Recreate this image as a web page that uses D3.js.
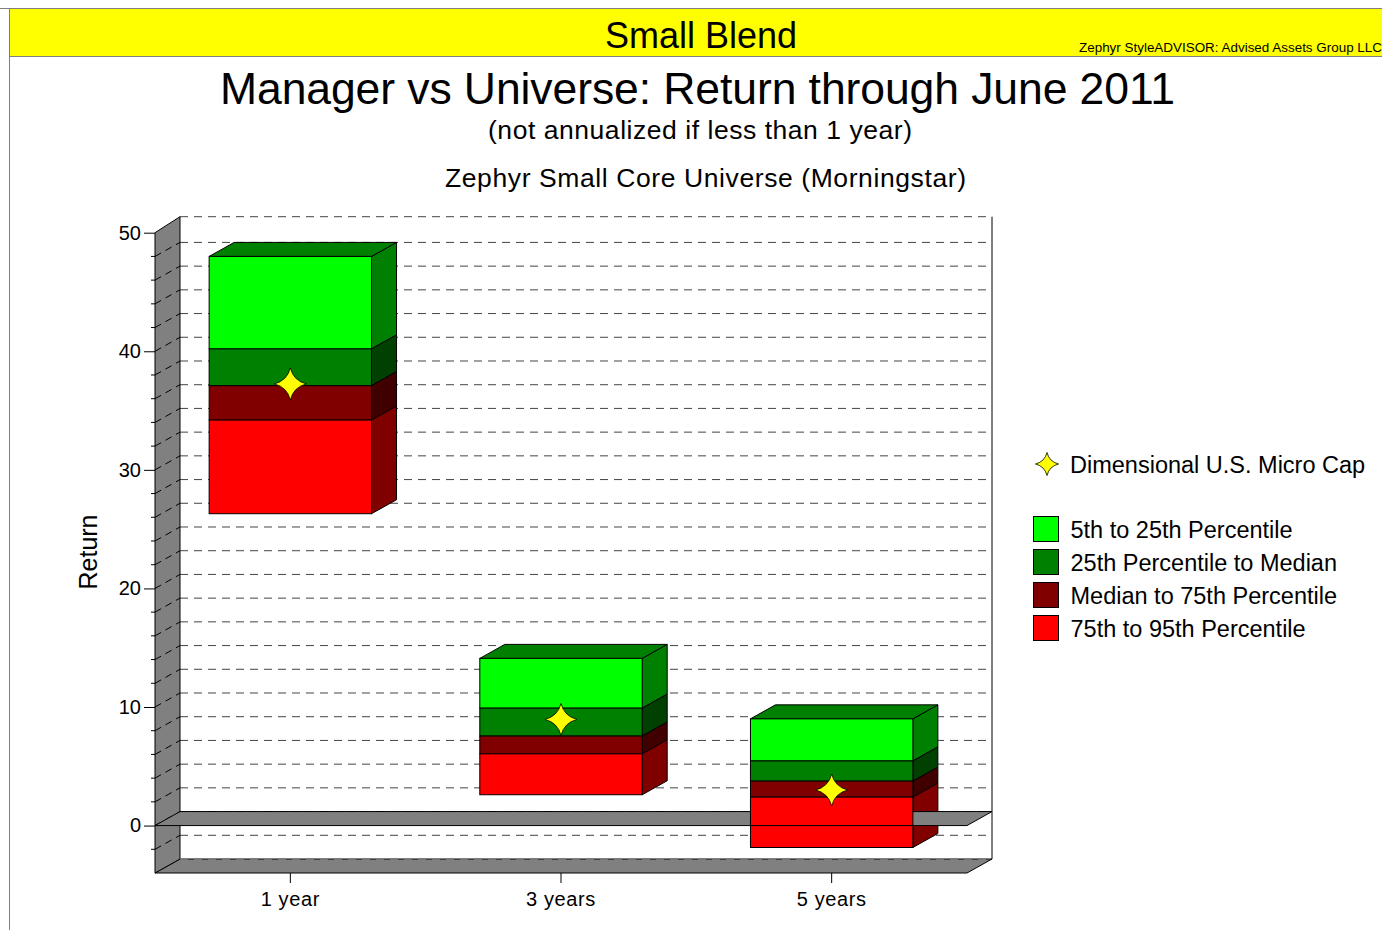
<!DOCTYPE html>
<html>
<head>
<meta charset="utf-8">
<script src="https://cdn.jsdelivr.net/npm/d3@7"></script>
<style>
  body { margin: 0; background: #fff; }
  svg { display: block; font-family: "Liberation Sans", Arial, sans-serif; }
</style>
</head>
<body>
<div id="chart"></div>
<script>
// data
const categories = ["1 year", "3 years", "5 years"];
const p05 = [48.0, 14.1, 9.0];
const p25 = [40.2, 9.9, 5.45];
const p50 = [37.1, 7.55, 3.75];
const p75 = [34.2, 6.05, 2.4];
const p95 = [26.3, 2.6, -1.85];
const manager = [37.25, 8.95, 3.0];
const managerName = "Dimensional U.S. Micro Cap";
const bandNames = ["5th to 25th Percentile", "25th Percentile to Median", "Median to 75th Percentile", "75th to 95th Percentile"];
const bandColors = ["#00ff00", "#008000", "#800000", "#ff0000"];
const yTicks = [0, 10, 20, 30, 40, 50];

const W = 1382, H = 930;
const DX = 25, DY = -14;   // depth offset of the 3d box
const plotL = 155, plotR = 967, plotT = 232.7, plotB = 873;

const svg = d3.select("#chart").append("svg").attr("width", W).attr("height", H);

const y = d3.scaleLinear().domain([-4, 50]).range([plotB, plotT]);
const x = d3.scaleBand().domain(categories).range([plotL, plotR])
    .paddingInner(0.4).paddingOuter(0.2);

const pt = (px, v, d) => [px + DX * d, y(v) + DY * d];
const poly = pts => "M" + pts.map(p => p.join(",")).join("L") + "Z";
const shade = c => { const r = d3.rgb(c); return d3.rgb(r.r * 0.5, r.g * 0.5, r.b * 0.5).toString(); };

// ---- banner
svg.append("rect").attr("x", 9.5).attr("y", 8.5).attr("width", W).attr("height", 48)
    .attr("fill", "#ffff00").attr("stroke", "#808080");
svg.append("line").attr("x1", 9.5).attr("x2", 9.5).attr("y1", 8).attr("y2", H).attr("stroke", "#808080");
svg.append("line").attr("x1", 0).attr("x2", W).attr("y1", 8.5).attr("y2", 8.5).attr("stroke", "#808080");
svg.append("text").attr("x", 701).attr("y", 48).attr("text-anchor", "middle")
    .attr("font-size", 36).text("Small Blend");
svg.append("text").attr("x", 1382).attr("y", 52).attr("text-anchor", "end")
    .attr("font-size", 12).attr("textLength", 303).attr("lengthAdjust", "spacingAndGlyphs")
    .text("Zephyr StyleADVISOR: Advised Assets Group LLC");

// ---- titles
svg.append("text").attr("x", 697.5).attr("y", 104).attr("text-anchor", "middle")
    .attr("font-size", 44.5).attr("textLength", 955).text("Manager vs Universe: Return through June 2011");
svg.append("text").attr("x", 700).attr("y", 139).attr("text-anchor", "middle")
    .attr("font-size", 26.5).attr("textLength", 424).text("(not annualized if less than 1 year)");
svg.append("text").attr("x", 705.5).attr("y", 187).attr("text-anchor", "middle")
    .attr("font-size", 26.5).attr("textLength", 521).text("Zephyr Small Core Universe (Morningstar)");

// ---- 3d box: back wall, floor, left wall
const g = svg.append("g");
const [bx0, by0] = pt(plotL, 50, 1), [bx1, by1] = pt(plotR, -4, 1);
g.append("rect").attr("x", bx0).attr("y", by0 - 2).attr("width", bx1 - bx0).attr("height", by1 - by0 + 2)
    .attr("fill", "#fff");
g.append("line").attr("x1", bx1).attr("x2", bx1).attr("y1", by0 - 2).attr("y2", by1)
    .attr("stroke", "#000");

const gridVals = d3.range(-4, 51, 2);
g.selectAll(".grid").data(gridVals).join("line").attr("class", "grid")
    .attr("x1", bx0).attr("x2", bx1)
    .attr("y1", d => pt(plotL, d, 1)[1] - (d === 50 ? 2 : 0))
    .attr("y2", d => pt(plotL, d, 1)[1] - (d === 50 ? 2 : 0))
    .attr("stroke", "#444").attr("stroke-dasharray", "8,6");

g.append("path").attr("d", poly([pt(plotL, -4, 0), pt(plotR, -4, 0), pt(plotR, -4, 1), pt(plotL, -4, 1)]))
    .attr("fill", "#808080").attr("stroke", "#000");
g.append("path").attr("d", poly([pt(plotL, 50, 0), [plotL + DX, y(50) + DY - 2], pt(plotL, -4, 1), pt(plotL, -4, 0)]))
    .attr("fill", "#808080").attr("stroke", "#000");
// grid lines on left wall
g.selectAll(".sgrid").data(gridVals.filter(d => d > -4 && d < 50)).join("line").attr("class", "sgrid")
    .attr("x1", plotL).attr("x2", plotL + DX)
    .attr("y1", d => y(d)).attr("y2", d => y(d) + DY)
    .attr("stroke", "#000").attr("stroke-dasharray", "7,5");
// floor's back edge shows as dashed gridline
g.append("line").attr("x1", bx0).attr("x2", bx1).attr("y1", by1).attr("y2", by1)
    .attr("stroke", "#aaa").attr("stroke-dasharray", "8,6");

// ---- axes
const yAxis = d3.axisLeft(y).tickValues(yTicks).tickSize(11).tickPadding(3).tickFormat(d3.format("d"));
const ya = svg.append("g").attr("transform", `translate(${plotL},0)`).call(yAxis);
ya.select(".domain").remove();
ya.selectAll("text").attr("font-size", 20).attr("font-family", "Liberation Sans, Arial, sans-serif")
    .attr("fill", "#000");
svg.append("g").selectAll("line").data(gridVals.filter(d => d % 10 !== 0 && d > -4))
    .join("line").attr("x1", plotL - 4).attr("x2", plotL).attr("y1", d => y(d)).attr("y2", d => y(d))
    .attr("stroke", "#000");

const xAxis = d3.axisBottom(x).tickSize(10).tickPadding(9);
const xa = svg.append("g").attr("transform", `translate(0,${plotB})`).call(xAxis);
xa.select(".domain").remove();
xa.selectAll("text").attr("font-size", 20).attr("letter-spacing", 0.6)
    .attr("font-family", "Liberation Sans, Arial, sans-serif").attr("fill", "#000");

svg.append("text").attr("transform", "translate(97,552) rotate(-90)").attr("text-anchor", "middle")
    .attr("font-size", 25).text("Return");

// ---- bars
const bounds = categories.map((c, i) => [p05[i], p25[i], p50[i], p75[i], p95[i]]);
const segs = [];
categories.forEach((c, i) => {
    const b = bounds[i];
    for (let k = 0; k < 4; k++) segs.push({ cat: c, i, k, hi: b[k], lo: b[k + 1] });
});
const bw = x.bandwidth();
const barBack = svg.append("g"), plane = svg.append("g"), barFront = svg.append("g");

segs.forEach(s => {
    const x0 = x(s.cat), x1 = x0 + bw;
    const dark = shade(bandColors[s.k]);
    barBack.append("path")
        .attr("d", poly([pt(x1, s.hi, 0), pt(x1, s.hi, 1), pt(x1, s.lo, 1), pt(x1, s.lo, 0)]))
        .attr("fill", dark).attr("stroke", "#000");
    if (s.k === 0) {
        barBack.append("path")
            .attr("d", poly([pt(x0, s.hi, 0), pt(x0, s.hi, 1), pt(x1, s.hi, 1), pt(x1, s.hi, 0)]))
            .attr("fill", dark).attr("stroke", "#000");
    }
    barFront.append("rect").attr("x", x0).attr("y", y(s.hi)).attr("width", bw)
        .attr("height", y(s.lo) - y(s.hi)).attr("fill", bandColors[s.k]).attr("stroke", "#000");
    if (s.lo < 0 && s.hi > 0) {
        barFront.append("line").attr("x1", x0).attr("x2", x1).attr("y1", y(0)).attr("y2", y(0))
            .attr("stroke", "#000");
    }
});

// zero plane
plane.append("path").attr("d", poly([pt(plotL, 0, 0), pt(plotR, 0, 0), pt(plotR, 0, 1), pt(plotL, 0, 1)]))
    .attr("fill", "#808080").attr("stroke", "#000");

// ---- manager markers: 4 point star with concave sides
const star = r => {
    const k = r * 0.2;
    const tips = [[0, -r], [r, 0], [0, r], [-r, 0]];
    const ctl = [[k, -k], [k, k], [-k, k], [-k, -k]];
    let d = `M${tips[0]}`;
    for (let j = 0; j < 4; j++) d += `Q${ctl[j]} ${tips[(j + 1) % 4]}`;
    return d + "Z";
};
svg.append("g").selectAll("path").data(manager).join("path")
    .attr("transform", (d, i) => `translate(${x(categories[i]) + bw / 2},${y(d)})`)
    .attr("d", star(16)).attr("fill", "#ffff00").attr("stroke", "#000").attr("stroke-width", 0.8);

// ---- legend
const lg = svg.append("g");
lg.append("path").attr("transform", "translate(1047,464)").attr("d", star(11.5))
    .attr("fill", "#ffff00").attr("stroke", "#000").attr("stroke-width", 0.8);
lg.append("text").attr("x", 1070).attr("y", 473).attr("font-size", 23.5).text(managerName);
const li = lg.selectAll(".li").data(bandNames).join("g").attr("class", "li")
    .attr("transform", (d, i) => `translate(1033.5,${516.5 + i * 33})`);
li.append("rect").attr("width", 25).attr("height", 25)
    .attr("fill", (d, i) => bandColors[i]).attr("stroke", "#000");
li.append("text").attr("x", 37).attr("y", 21).attr("font-size", 23.5).text(d => d);
</script>
</body>
</html>
